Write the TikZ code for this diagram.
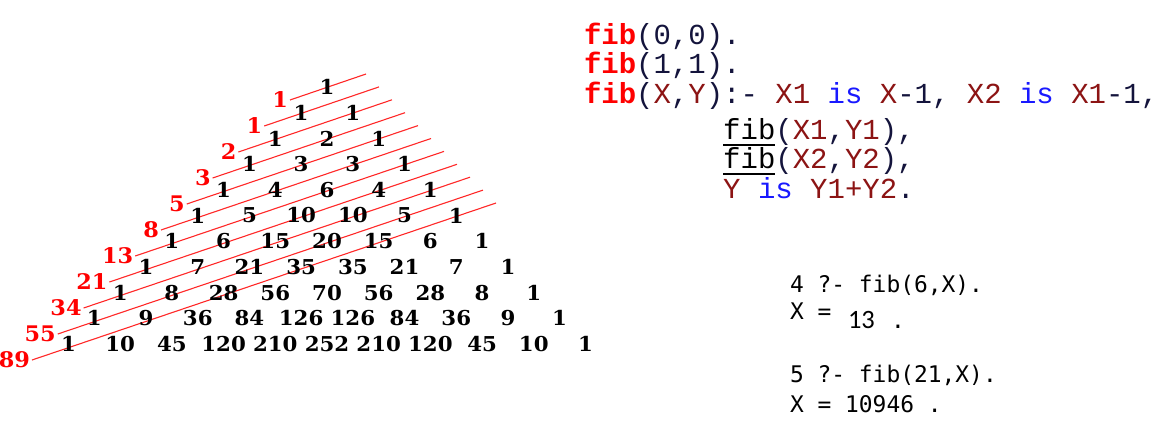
\documentclass[tikz,border=0pt]{standalone}
\usepackage{fontspec}
\setmainfont{DejaVu Serif}
\newfontfamily\trifont[FakeStretch=1.04]{DejaVu Serif}
\newfontfamily\codefont{Liberation Mono}
\newfontfamily\qfont{DejaVu Sans Mono}
\newfontfamily\ansfont{Carlito}
\definecolor{fibred}{RGB}{255,0,0}
\definecolor{varcol}{RGB}{140,20,20}
\definecolor{kwcol}{RGB}{25,25,255}
\definecolor{pun}{RGB}{20,20,60}
\definecolor{linered}{RGB}{255,40,40}
\newcommand\cfib{{\bfseries\color{fibred}fib}}
\newcommand\cvar[1]{{\color{varcol}#1}}
\newcommand\ckw[1]{{\color{kwcol}#1}}
\newcommand\cufib{{\color{black}\setbox0\hbox{fib}\rlap{\rule[-6.5pt]{\wd0}{1.6pt}}\box0}}
\frenchspacing
\begin{document}
\begin{tikzpicture}[x=1pt,y=-1pt,
  num/.style={font=\trifont\bfseries\fontsize{20.5}{21}\selectfont, inner sep=0pt, outer sep=0pt},
  fiblab/.style={font=\trifont\bfseries\fontsize{21.5}{22}\selectfont, text=red, anchor=east, inner xsep=2pt, inner ysep=0pt, outer sep=0pt},
  diag/.style={draw=linered, line width=1.1pt},
  code/.style={anchor=base west, inner sep=0pt, outer sep=0pt, text=pun, font=\codefont\fontsize{29}{31}\selectfont},
  query/.style={anchor=base west, inner sep=0pt, outer sep=0pt, text=black, font=\qfont\fontsize{22.9}{24}\selectfont},
  answer/.style={anchor=base west, inner sep=0pt, outer sep=0pt, text=black, font=\ansfont\fontsize{26.5}{28}\selectfont}
]
\fill[white] (0,0) rectangle (1159,429);
\path[use as bounding box] (0,0) rectangle (1159,429);

% diagonals with Fibonacci labels
\foreach \v [count=\k from 0] in {1,1,2,3,5,8,13,21,34,55,89} {
  \coordinate (s\k) at ({290-25.8*\k},{100+26*\k});
  \coordinate (e\k) at ({366+13*\k},{74+12.9*\k});
  \node[fiblab] (f\k) at (s\k) {\v};
  \draw[diag] (f\k.east) -- (e\k);
}

% Pascal triangle
\foreach \row [count=\n from 0] in {{1},{1,1},{1,2,1},{1,3,3,1},{1,4,6,4,1},{1,5,10,10,5,1},{1,6,15,20,15,6,1},{1,7,21,35,35,21,7,1},{1,8,28,56,70,56,28,8,1},{1,9,36,84,126,126,84,36,9,1},{1,10,45,120,210,252,210,120,45,10,1}} {
  \foreach \v [count=\j from 0] in \row {
    \node[num] (p\n-\j) at ({68.5+25.85*(10-\n)+51.7*\j},{87+25.7*\n}) {\v};
  }
}

% Prolog program
\node[code] (c1) at (584,44) {\cfib(0,0).};
\node[code] (c2) at (584,73.5) {\cfib(1,1).};
\node[code] (c3) at (584,103) {\cfib(\cvar{X},\cvar{Y}):- \cvar{X1} \ckw{is} \cvar{X}-1, \cvar{X2} \ckw{is} \cvar{X1}-1,};
\node[code] (c4) at (723.2,139) {\cufib(\cvar{X1},\cvar{Y1}),};
\node[code] (c5) at (723.2,168.5) {\cufib(\cvar{X2},\cvar{Y2}),};
\node[code] (c6) at (723.2,198) {\cvar{Y} \ckw{is} \cvar{Y1+Y2}.};

% queries
\node[query] (q1) at (790,292) {4 ?- fib(6,X).};
\node[query] (q2) at (790,319) {X =};
\node[answer] (q2n) at (848,328) {13};
\node[query, anchor=base] (q2d) at (898,328) {.};
\node[query] (q3) at (790,382) {5 ?- fib(21,X).};
\node[query] (q4) at (790,412) {X = 10946 .};
\end{tikzpicture}
\end{document}
